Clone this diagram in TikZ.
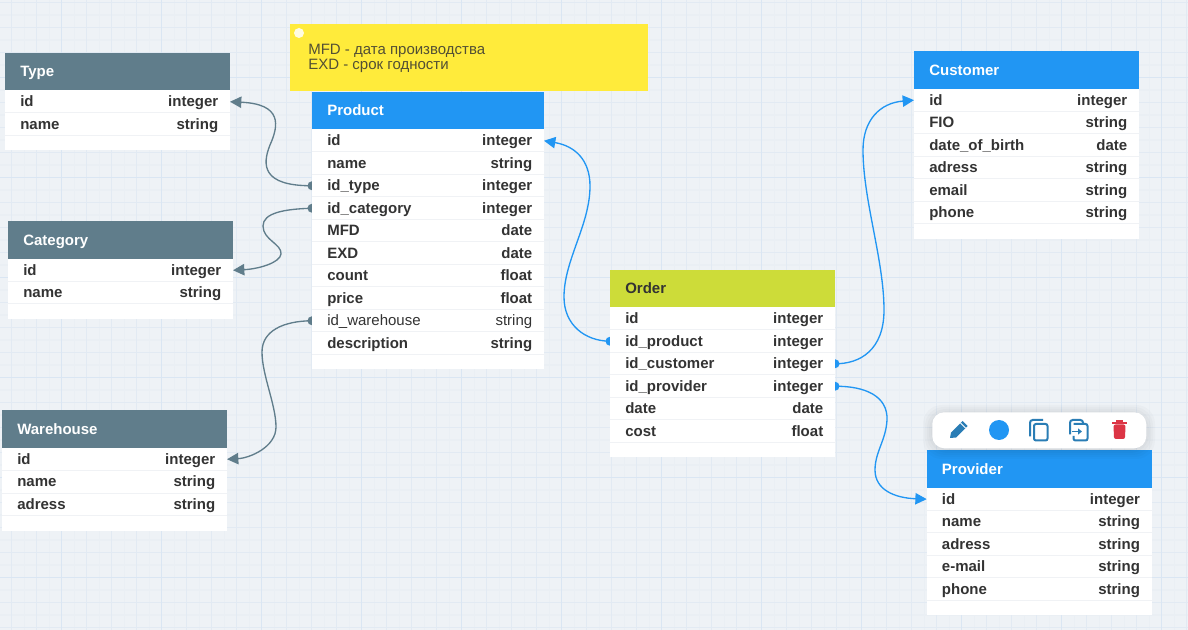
\documentclass[tikz,border=0pt]{standalone}
\usepackage{fontspec}
\setmainfont{Liberation Sans}
\usetikzlibrary{arrows.meta,backgrounds}
\definecolor{bgc}{HTML}{EEF2F6}
\definecolor{gridfaint}{HTML}{EAEFF4}
\definecolor{gridmid}{HTML}{E2EAF3}
\definecolor{gridmajor}{HTML}{DAE6F3}
\definecolor{slate}{HTML}{607D8B}
\definecolor{blue}{HTML}{2196F3}
\definecolor{lime}{HTML}{CDDC39}
\definecolor{notey}{HTML}{FFEB3B}
\definecolor{txt}{HTML}{333333}
\definecolor{rowl}{HTML}{F0F2F5}
\definecolor{ico}{HTML}{2A7DB5}
\definecolor{trash}{HTML}{DC3545}
\tikzset{
  x=0.75pt,y=-0.75pt,
  hdr/.style={anchor=north west,minimum height=37.5*0.75pt,inner sep=0pt,outer sep=0pt},
  hdrtext/.style={anchor=base west,inner sep=0pt,font=\fontsize{11.25pt}{13pt}\selectfont\bfseries},
  rowbox/.style={anchor=north west,fill=white,minimum height=22.5*0.75pt,inner sep=0pt,outer sep=0pt},
  foot/.style={anchor=north west,fill=white,minimum height=15*0.75pt,inner sep=0pt,outer sep=0pt},
  fieldname/.style={anchor=base west,inner sep=0pt,text=txt,font=\fontsize{11.25pt}{13pt}\selectfont\bfseries},
  fieldtype/.style={anchor=base east,inner sep=0pt,text=txt,font=\fontsize{11.25pt}{13pt}\selectfont\bfseries},
  rowline/.style={draw=rowl,line width=0.75pt},
  link/.style={line width=1pt,line cap=round},
  tip/.style={-{Triangle[length=8.5pt,width=8.5pt]}},
}
\newcommand\ertable[8]{%
  \node[hdr,fill=#5,minimum width=#4*0.75pt] (#1) at (#2,#3) {};
  \node[hdrtext,text=#6] (#1-title) at ([xshift=15*0.75pt,yshift=-3.9pt]#1.west) {#7};
  \foreach \f/\t [count=\i] in {#8} {
    \node[rowbox,minimum width=#4*0.75pt] (#1-\i) at ({#2},{#3+37.5+(\i-1)*22.5}) {};
    \xdef\lastrow{\i}
  }
  \node[foot,minimum width=#4*0.75pt] (#1-foot) at ({#2},{#3+37.5+\lastrow*22.5}) {};
  \foreach \f/\t [count=\i] in {#8} {
    \draw[rowline] (#1-\i.south west) -- (#1-\i.south east);
    \node[fieldname] (#1-\i-name) at ([xshift=15*0.75pt,yshift=-3.9pt]#1-\i.west) {\f};
    \node[fieldtype] (#1-\i-type) at ([xshift=-11.5*0.75pt,yshift=-3.9pt]#1-\i.east) {\t};
  }
}
\begin{document}
\begin{tikzpicture}
\useasboundingbox (0,0) rectangle (1188,630);
\begin{pgfonlayer}{background}
  \fill[bgc] (0,0) rectangle (1188,630);
  \foreach \k in {0,...,47} {
    \draw[gridfaint,line width=0.9pt] ({-0.7+25*\k},0) -- ({-0.7+25*\k},630);
  }
  \foreach \k in {0,...,25} {
    \draw[gridfaint,line width=0.9pt] (0,{15+25*\k-25}) -- (1188,{15+25*\k-25});
  }
  \foreach \k in {0,...,47} {
    \draw[gridmid,line width=0.6pt] ({11.5+25*\k},0) -- ({11.5+25*\k},630);
  }
  \foreach \k in {0,...,25} {
    \draw[gridmid,line width=0.6pt] (0,{2.5+25*\k}) -- (1188,{2.5+25*\k});
  }
  \foreach \k in {0,...,11} {
    \draw[gridmajor,line width=0.6pt] ({61.4+100*\k},0) -- ({61.4+100*\k},630);
  }
  \foreach \k in {0,...,6} {
    \draw[gridmajor,line width=0.6pt] (0,{-22.7+100*\k}) -- (1188,{-22.7+100*\k});
  }
\end{pgfonlayer}

% note
\node[anchor=north west,fill=notey,minimum width=358*0.75pt,minimum height=67*0.75pt,inner sep=0pt,outer sep=0pt] (note) at (290,24) {};
\fill[white,opacity=.85] (299,33) circle (5);
\node[anchor=base west,inner sep=0pt,text=txt!85!notey,font=\fontsize{11.25pt}{13pt}\selectfont] (noteA) at (308,55) {MFD - дата производства};
\node[anchor=base west,inner sep=0pt,text=txt!85!notey,font=\fontsize{11.25pt}{13pt}\selectfont] (noteB) at (308,70) {EXD - срок годности};

\ertable{Type}{5}{53}{225}{slate}{white}{Type}{id/integer,name/string}
\ertable{Category}{8}{221.5}{225}{slate}{white}{Category}{id/integer,name/string}
\ertable{Warehouse}{2}{410.5}{225}{slate}{white}{Warehouse}{id/integer,name/string,adress/string}
\ertable{Product}{312}{92}{232}{blue}{white}{Product}{id/integer,name/string,id\_type/integer,id\_category/integer,MFD/date,EXD/date,count/float,price/float,{\mdseries id\_warehouse}/{\mdseries string},description/string}
\ertable{Order}{610}{270}{225}{lime}{txt}{Order}{id/integer,id\_product/integer,id\_customer/integer,id\_provider/integer,date/date,cost/float}
\ertable{Customer}{914}{51.4}{225}{blue}{white}{Customer}{id/integer,FIO/string,date\_of\_birth/date,adress/string,email/string,phone/string}
\ertable{Provider}{926.7}{450.4}{225}{blue}{white}{Provider}{id/integer,name/string,adress/string,e-mail/string,phone/string}

% connectors
\begin{pgfonlayer}{background}
  \draw[link,slate,tip] (Product-3.west) .. controls (262,186) and (262,165) .. (270,145)
     .. controls (279,125) and (282,104) .. (Type-1.east);
  \fill[slate] (Product-3.west) circle (4.5);
  \draw[link,slate,tip] (Product-4.west) .. controls (284,209) and (263,213) .. (263,226)
     .. controls (263,240) and (282,244) .. (281,254) .. controls (280,263) and (258,269) .. (Category-1.east);
  \fill[slate] (Product-4.west) circle (4.5);
  \draw[link,slate,tip] (Product-9.west) .. controls (283,321) and (262,331) .. (262,352)
     .. controls (262,375) and (276,405) .. (276,427) .. controls (276,447) and (250,458) .. (Warehouse-1.east);
  \fill[slate] (Product-9.west) circle (4.5);
  \draw[link,blue,tip] (Order-2.west) .. controls (585,341) and (564,325) .. (564,297)
     .. controls (564,260) and (590,225) .. (590,186) .. controls (590,160) and (575,146) .. (Product-1.east);
  \fill[blue] (Order-2.west) circle (4.5);
  \draw[link,blue,tip] (Order-3.east) .. controls (860,364) and (884,350) .. (884,310)
     .. controls (884,260) and (863,200) .. (863,150) .. controls (863,120) and (880,103) .. (Customer-1.west);
  \fill[blue] (Order-3.east) circle (4.5);
  \draw[link,blue,tip] (Order-4.east) .. controls (865,386) and (888,396) .. (887,420)
     .. controls (886,440) and (875,452) .. (875,470) .. controls (875,490) and (895,498) .. (Provider-1.west);
  \fill[blue] (Order-4.east) circle (4.5);
\end{pgfonlayer}

% toolbar
\foreach \s in {9,7,5,3,1} {
  \fill[black,fill opacity=.018,rounded corners=14] ({932-\s},{412-\s+2}) rectangle ({1146+\s},{448+\s+2});
}
\node[anchor=north west,fill=white,minimum width=214*0.75pt,minimum height=36*0.75pt,inner sep=0pt,rounded corners=9pt] (toolbar) at (932,412) {};
% pencil
\fill[ico] (950,438) -- (951,432.5) -- (962.5,421) -- (967.5,426) -- (956,437.5) -- cycle;
\draw[white,line width=.6pt] (960.5,423) -- (965.5,428);
% circle
\fill[blue] (999,430) circle (10);
% copy
\draw[ico,line width=1.5pt,rounded corners=2] (1030,436.5) -- (1030,420) -- (1043,420);
\draw[ico,line width=1.5pt,rounded corners=1.5] (1034,424) rectangle (1047.5,440.5);
% duplicate
\draw[ico,line width=1.5pt,rounded corners=2] (1070,434.5) -- (1070,420) -- (1083,420) -- (1083,423);
\draw[ico,line width=1.5pt,rounded corners=1.5] (1073.5,424) -- (1087.5,424) -- (1087.5,440.5) -- (1073.5,440.5) -- (1073.5,436);
\draw[ico,line width=1.3pt,-{Triangle[length=3pt,width=4.5pt]}] (1072,431.5) -- (1082,431.5);
% trash
\fill[trash] (1112,422) rectangle (1127,424.5);
\fill[trash] (1116,420.5) rectangle (1123,422);
\fill[trash,rounded corners=1.5] (1113.5,424.5) -- (1125.5,424.5) -- (1125,439) -- (1114,439) -- cycle;
\end{tikzpicture}
\end{document}
